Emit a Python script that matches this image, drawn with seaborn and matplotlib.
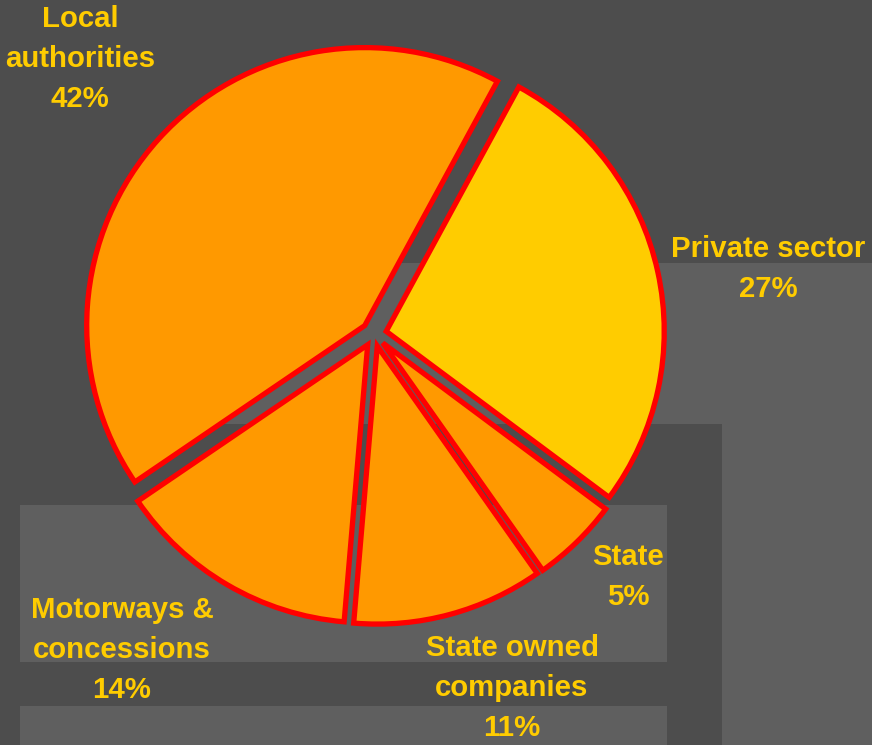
import matplotlib
matplotlib.use("Agg")
import matplotlib.pyplot as plt
from matplotlib.patches import Rectangle
import seaborn as sns

# Share of spending by type of financing body
categories = ["Private sector", "State", "State owned\ncompanies",
              "Motorways &\nconcessions", "Local\nauthorities"]
shares = [27, 5, 11, 14, 42]
slice_colors = ["#FFCC00", "#FF9900", "#FF9900", "#FF9900", "#FF9900"]

sns.set_theme(style="dark")
plt.rcParams["font.family"] = ["Liberation Sans", "DejaVu Sans"]

W, H = 872, 745
BG_DARK = "#4D4D4D"
BG_LIGHT = "#5F5F5F"
TEXT_GOLD = "#FFCC00"

fig = plt.figure(figsize=(W / 100, H / 100), dpi=100, facecolor=BG_DARK)

# Lighter backdrop panels (pixel boxes: x0, y0, x1, y1 from the top-left)
panels = [(203, 263, 872, 424), (722, 424, 872, 745),
          (20, 505, 667, 662), (20, 706, 667, 745)]
for x0, y0, x1, y1 in panels:
    fig.add_artist(Rectangle((x0 / W, 1 - y1 / H), (x1 - x0) / W, (y1 - y0) / H,
                             transform=fig.transFigure, facecolor=BG_LIGHT,
                             edgecolor="none", zorder=0))

# Pie axes: centre at (374, 334) px, radius 278 px
cx, cy, r = 374, 334, 278
ax = fig.add_axes([0, 0, 1, 1])
ax.set_facecolor("none")

ax.pie(shares, colors=slice_colors, startangle=61.5, counterclock=False,
       explode=[0.045] * len(shares),
       wedgeprops=dict(edgecolor="#FF0000", linewidth=3.8, joinstyle="miter"))

ax.set_xlim(-cx / r, (W - cx) / r)
ax.set_ylim(-(H - cy) / r, cy / r)
ax.axis("off")

# Label placement in figure pixels (centre of each text block)
label_pos = [(768, 269), (628, 577), (512, 688), (122, 650), (80, 59)]
for name, val, (px, py) in zip(categories, shares, label_pos):
    fig.text(px / W, 1 - py / H, f"{name}\n{val}%", ha="center", va="center",
             multialignment="center", color=TEXT_GOLD, fontsize=21.2,
             fontweight="bold", linespacing=1.56, zorder=5)

fig.savefig("out.png", dpi=100, facecolor=BG_DARK)
